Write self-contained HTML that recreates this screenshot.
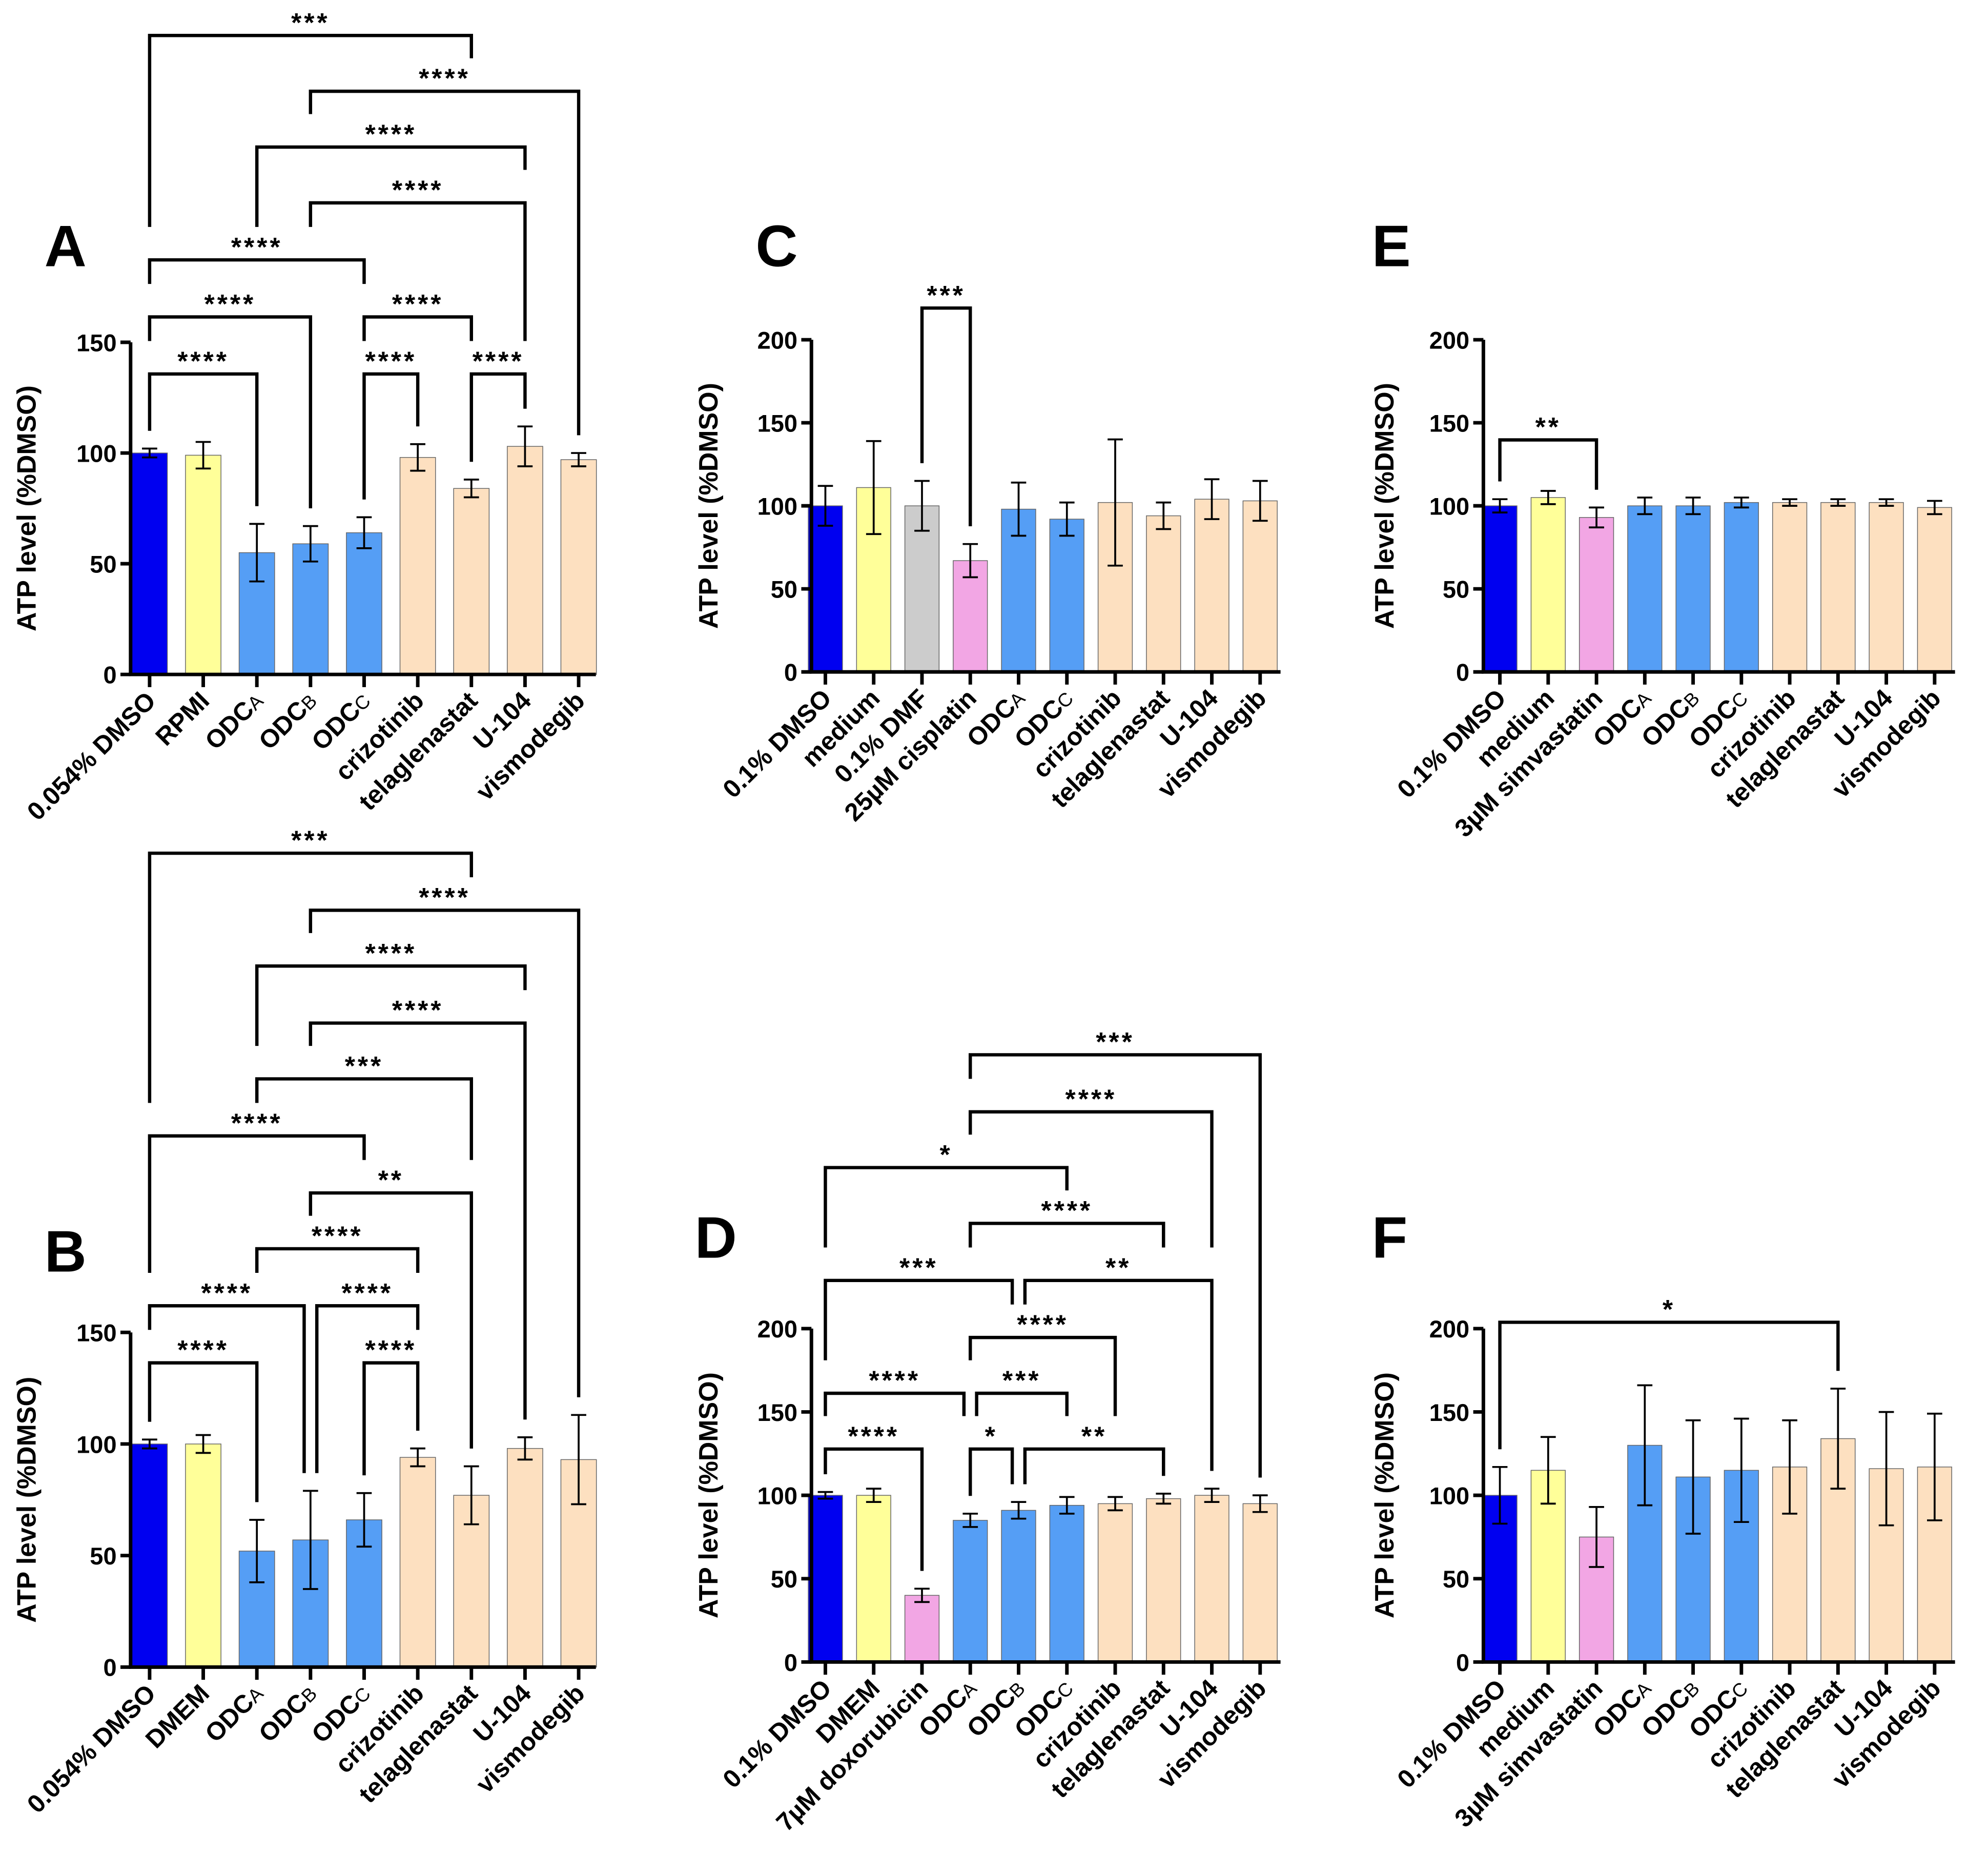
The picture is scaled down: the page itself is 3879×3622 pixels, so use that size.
<!DOCTYPE html>
<html><head><meta charset="utf-8"><style>
html,body{margin:0;padding:0;background:#fff}
svg{display:block}
text{font-family:"Liberation Sans",Arial,sans-serif;font-weight:bold;fill:#000}
</style></head><body>
<svg id="fig" width="3879" height="3622" viewBox="0 0 1568 1464" preserveAspectRatio="none" xmlns="http://www.w3.org/2000/svg"></svg>
<script>
// ===== data arrays =====
const labelsA = ["0.054% DMSO","RPMI","ODC|A","ODC|B","ODC|C","crizotinib","telaglenastat","U-104","vismodegib"];
const valuesA = [100,99,55,59,64,98,84,103,97];
const errorsA = [2,6,13,8,7,6,4,9,3];
const bracketsA = [[0,2,"****"],[0,3,"****"],[4,5,"****"],[4,6,"****"],[6,7,"****"],[0,4,"****"],[3,7,"****"],[2,7,"****"],[3,8,"****"],[0,6,"***"]];
const bracketYA = [295,250,295,250,295,205,160,116,72,28];

const labelsB = ["0.054% DMSO","DMEM","ODC|A","ODC|B","ODC|C","crizotinib","telaglenastat","U-104","vismodegib"];
const valuesB = [100,100,52,57,66,94,77,98,93];
const errorsB = [2,4,14,22,12,4,13,5,20];
const bracketsB = [[0,2,"****"],[0,3,"****"],[3,5,"****"],[4,5,"****"],[2,5,"****"],[3,6,"**"],[0,4,"****"],[2,6,"***"],[3,7,"****"],[2,7,"****"],[3,8,"****"],[0,6,"***"]];
const bracketYB = [1075,1030,1030,1075,985,941,896,851,807,762,718,673];

const labelsC = ["0.1% DMSO","medium","0.1% DMF","25µM cisplatin","ODC|A","ODC|C","crizotinib","telaglenastat","U-104","vismodegib"];
const valuesC = [100,111,100,67,98,92,102,94,104,103];
const errorsC = [12,28,15,10,16,10,38,8,12,12];
const bracketsC = [[2,3,"***"]];
const bracketYC = [243];

const labelsD = ["0.1% DMSO","DMEM","7µM doxorubicin","ODC|A","ODC|B","ODC|C","crizotinib","telaglenastat","U-104","vismodegib"];
const valuesD = [100,100,40,85,91,94,95,98,100,95];
const errorsD = [2,4,4,4,5,5,4,3,4,5];
const bracketsD = [[0,2,"****"],[3,4,"*"],[4,7,"**"],[0,3,"****"],[3,5,"***"],[3,6,"****"],[0,4,"***"],[4,8,"**"],[3,7,"****"],[0,5,"*"],[3,8,"****"],[3,9,"***"]];
const bracketYD = [1143,1143,1143,1099,1099,1055,1010,1010,965,921,877,832];

const labelsE = ["0.1% DMSO","medium","3µM simvastatin","ODC|A","ODC|B","ODC|C","crizotinib","telaglenastat","U-104","vismodegib"];
const valuesE = [100,105,93,100,100,102,102,102,102,99];
const errorsE = [4,4,6,5,5,3,2,2,2,4];
const bracketsE = [[0,2,"**"]];
const bracketYE = [347];

const labelsF = ["0.1% DMSO","medium","3µM simvastatin","ODC|A","ODC|B","ODC|C","crizotinib","telaglenastat","U-104","vismodegib"];
const valuesF = [100,115,75,130,111,115,117,134,116,117];
const errorsF = [17,20,18,36,34,31,28,30,34,32];
const bracketsF = [[0,7,"*"]];
const bracketYF = [1043];

const ticks150 = [0,50,100,150];
const ticks200 = [0,50,100,150,200];

const BLUE="#0000f0",YEL="#ffff99",LB="#559ef5",PE="#fde0c0",GR="#cccccc",PK="#f2a6e4";
const colorsA=[BLUE,YEL,LB,LB,LB,PE,PE,PE,PE];
const colorsC=[BLUE,YEL,GR,PK,LB,LB,PE,PE,PE,PE];
const colorsD=[BLUE,YEL,PK,LB,LB,LB,PE,PE,PE,PE];

const NS="http://www.w3.org/2000/svg";
const svg=document.getElementById('fig');
function mk(tag,attrs,parent){const e=document.createElementNS(NS,tag);for(const k in attrs)e.setAttribute(k,attrs[k]);(parent||svg).appendChild(e);return e;}

function panel(p){
  const g=mk('g',{});
  
  
  const yS=v=>p.y0-(v/p.max)*(p.y0-p.yTop);
  const xS=i=>p.c0+i*p.step;
  const L=mk('text',{x:p.lx,y:p.ly,'font-size':46},g);L.textContent=p.id;
  
  
  const yt=mk('text',{x:0,y:0,'font-size':21,'text-anchor':'middle'},g);
  yt.setAttribute('transform','translate('+p.tx+','+((p.y0+p.yTop)/2)+') rotate(-90)');
  yt.textContent="ATP level (%DMSO)";
  
  
  p.vals.forEach((v,i)=>{
    const b=mk('rect',{x:xS(i)-p.bw/2,y:yS(v),width:p.bw,height:p.y0-yS(v),fill:p.colors[i],stroke:'#666','stroke-width':0.6},g);
    
    
    const e=p.errs[i],x=xS(i);
    const eb=mk('path',{d:'M'+x+','+yS(v+e)+'V'+yS(v-e)+'M'+(x-6)+','+yS(v+e)+'H'+(x+6)+'M'+(x-6)+','+yS(v-e)+'H'+(x+6),stroke:'#000','stroke-width':1.5,fill:'none'},g);
    
    
  });
  const ax=mk('path',{d:'M'+p.ax+','+p.yTop+'V'+p.y0+'H'+p.xEnd,stroke:'#000','stroke-width':2.8,fill:'none'},g);
  
  
  p.ticks.forEach(t=>{
    mk('line',{x1:p.ax-8,x2:p.ax,y1:yS(t),y2:yS(t),stroke:'#000','stroke-width':2.8},g);
    const tl=mk('text',{x:p.ax-11,y:yS(t)+7,'font-size':19,'text-anchor':'end'},g);tl.textContent=t;
    
    
  });
  p.labels.forEach((lab,i)=>{
    const x=xS(i);
    mk('line',{x1:x,x2:x,y1:p.y0,y2:p.y0+10,stroke:'#000','stroke-width':2.8},g);
    const t=mk('text',{'font-size':20,'text-anchor':'end',transform:'translate('+(x+6)+','+(p.y0+22)+') rotate(-45)'},g);
    
    
    if(lab.includes('|')){const parts=lab.split('|');t.textContent=parts[0];const ts=mk('tspan',{'font-size':15,'font-weight':'normal'},t);ts.textContent=parts[1];}
    else t.textContent=lab;
  });
  const barTop=i=>yS(p.vals[i]+p.errs[i]);
  p.br.forEach((b,k)=>{
    const y=p.by[k];
    const leg=i=>{
      let m=barTop(i)-14;
      p.br.forEach((o,j)=>{if(p.by[j]>y && i>=o[0] && i<=o[1]) m=Math.min(m,p.by[j]-26);});
      return m;
    };
    let x1=xS(b[0]),x2=xS(b[1]);
    p.br.forEach((o,j)=>{
      if(j===k||p.by[j]!==y) return;
      if(o[1]===b[0]) x1+=5;
      if(o[0]===b[1]) x2-=5;
    });
    const path=mk('path',{d:'M'+x1+','+leg(b[0])+'V'+y+'H'+x2+'V'+leg(b[1]),stroke:'#000','stroke-width':2.6,fill:'none'},g);
    
    
    const st=mk('text',{x:(x1+x2)/2,y:y-3,'font-size':21,'text-anchor':'middle','letter-spacing':2},g);
    st.textContent=b[2];
    
    
  });
}

panel({id:'A',labels:labelsA,vals:valuesA,errs:errorsA,br:bracketsA,by:bracketYA,colors:colorsA,ticks:ticks150,max:150,y0:532,yTop:270,ax:103,xEnd:470,c0:118,step:42.3,bw:28,lx:35,ly:210,tx:28});
panel({id:'B',labels:labelsB,vals:valuesB,errs:errorsB,br:bracketsB,by:bracketYB,colors:colorsA,ticks:ticks150,max:150,y0:1315,yTop:1051,ax:103,xEnd:470,c0:118,step:42.3,bw:28,lx:35,ly:1003,tx:28});
panel({id:'C',labels:labelsC,vals:valuesC,errs:errorsC,br:bracketsC,by:bracketYC,colors:colorsC,ticks:ticks200,max:200,y0:530,yTop:268,ax:640,xEnd:1010,c0:651,step:38.1,bw:27,lx:596,ly:210,tx:566});
panel({id:'D',labels:labelsD,vals:valuesD,errs:errorsD,br:bracketsD,by:bracketYD,colors:colorsD,ticks:ticks200,max:200,y0:1311,yTop:1048,ax:640,xEnd:1010,c0:651,step:38.1,bw:27,lx:548,ly:992,tx:566});
panel({id:'E',labels:labelsE,vals:valuesE,errs:errorsE,br:bracketsE,by:bracketYE,colors:colorsD,ticks:ticks200,max:200,y0:530,yTop:268,ax:1170,xEnd:1542,c0:1183,step:38.1,bw:27,lx:1082,ly:210,tx:1099});
panel({id:'F',labels:labelsF,vals:valuesF,errs:errorsF,br:bracketsF,by:bracketYF,colors:colorsD,ticks:ticks200,max:200,y0:1311,yTop:1048,ax:1170,xEnd:1542,c0:1183,step:38.1,bw:27,lx:1082,ly:992,tx:1099});
</script>
</body></html>
